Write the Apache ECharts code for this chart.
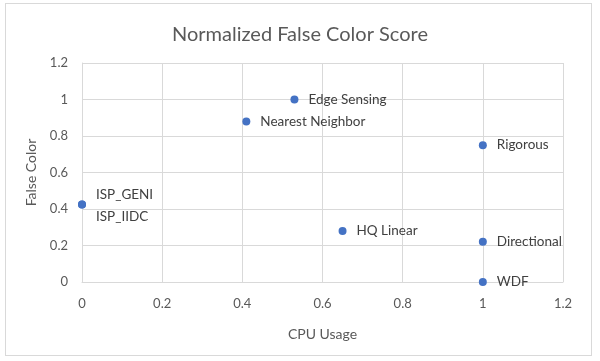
<!DOCTYPE html>
<html>
<head>
<meta charset="utf-8">
<script src="https://cdn.jsdelivr.net/npm/echarts@6/dist/echarts.min.js"></script>
<style>
html,body{margin:0;padding:0;background:#fff;}
#frame{position:absolute;left:5px;top:3px;width:587px;height:353px;border:1px solid #d9d9d9;box-sizing:border-box;}
#chart{position:absolute;left:0;top:0;width:600px;height:361px;}
</style>
</head>
<body>
<div id="frame"></div>
<div id="chart"></div>
<script>
const names = ["ISP_GENI", "ISP_IIDC", "Nearest Neighbor", "Edge Sensing", "HQ Linear", "Rigorous", "Directional", "WDF"];
const cpuUsage = [0, 0, 0.41, 0.53, 0.65, 1, 1, 1];
const falseColor = [0.425, 0.425, 0.88, 1.0, 0.28, 0.75, 0.22, 0];
const axisTicks = [0, 0.2, 0.4, 0.6, 0.8, 1, 1.2];

const labelOffsets = {"ISP_GENI": [0, -10], "ISP_IIDC": [0, 12]};
const data = names.map((n, i) => {
  const item = {name: n, value: [cpuUsage[i], falseColor[i]]};
  if (labelOffsets[n]) item.label = {offset: labelOffsets[n]};
  return item;
});

const font = 'Lato, "Open Sans", sans-serif';
const chart = echarts.init(document.getElementById('chart'), null, {renderer: 'canvas'});
chart.setOption({
  backgroundColor: 'transparent',
  animation: false,
  title: {
    text: 'Normalized False Color Score',
    left: 'center', top: 20,
    textStyle: {fontFamily: font, fontSize: 20, fontWeight: 'normal', color: '#595959'}
  },
  grid: {left: 82, right: 37, top: 63, bottom: 79, containLabel: false},
  xAxis: {
    type: 'value', min: axisTicks[0], max: axisTicks[axisTicks.length - 1], interval: 0.2,
    name: 'CPU Usage', nameLocation: 'middle', nameGap: 45,
    nameTextStyle: {fontFamily: font, fontSize: 14, color: '#595959'},
    axisLine: {show: true, lineStyle: {color: '#d9d9d9'}},
    axisTick: {show: false},
    axisLabel: {fontFamily: font, fontSize: 13, color: '#595959', margin: 15,
      formatter: v => String(+v.toFixed(1))},
    splitLine: {show: true, lineStyle: {color: '#d9d9d9'}}
  },
  yAxis: {
    type: 'value', min: axisTicks[0], max: axisTicks[axisTicks.length - 1], interval: 0.2,
    name: 'False Color', nameLocation: 'middle', nameGap: 41,
    nameTextStyle: {fontFamily: font, fontSize: 14, color: '#595959'},
    axisLine: {show: true, lineStyle: {color: '#d9d9d9'}},
    axisTick: {show: false},
    axisLabel: {fontFamily: font, fontSize: 13, color: '#595959', margin: 14,
      formatter: v => String(+v.toFixed(1))},
    splitLine: {show: true, lineStyle: {color: '#d9d9d9'}}
  },
  series: [{
    type: 'scatter',
    symbolSize: 8,
    itemStyle: {color: '#4472C4', opacity: 1},
    label: {
      show: true, position: 'right', distance: 10,
      formatter: p => p.name,
      fontFamily: font, fontSize: 13.5, color: '#404040'
    },
    data: data
  }]
});
</script>
</body>
</html>
